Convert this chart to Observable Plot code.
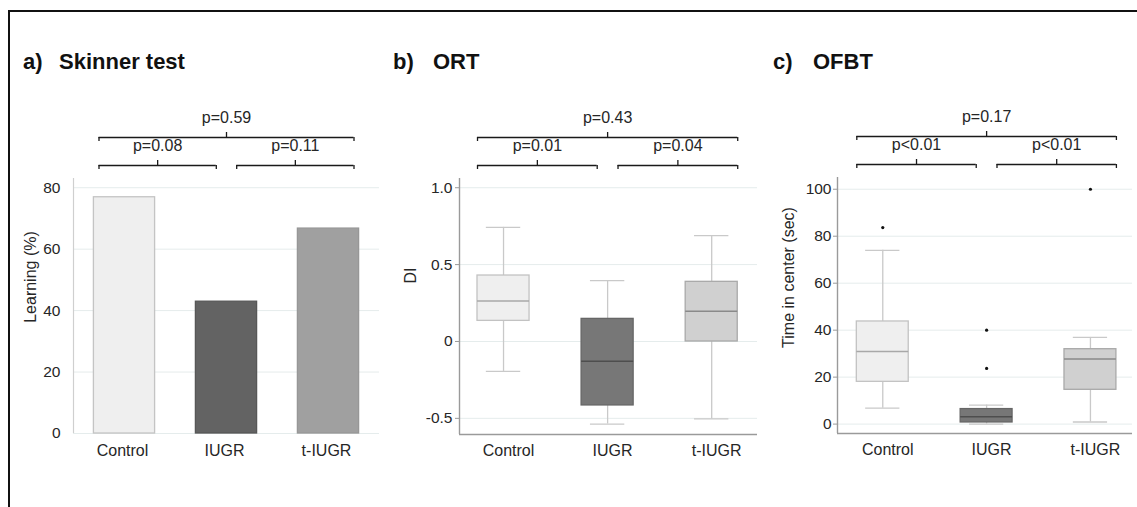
<!DOCTYPE html>
<html>
<head>
<meta charset="utf-8">
<script src="https://cdn.jsdelivr.net/npm/d3@7"></script>
<script src="https://cdn.jsdelivr.net/npm/@observablehq/plot@0.6"></script>
<style>
  html, body { margin: 0; padding: 0; background: #fff; }
  #fig { position: relative; width: 1137px; height: 507px; overflow: hidden; background: #fff;
         font-family: 'Liberation Sans', Arial, Helvetica, sans-serif; }
  #frameBorder { position: absolute; left: 8px; top: 10px; right: -4px; bottom: -4px;
                 border-top: 2px solid #111; border-left: 2px solid #111; }
  .t { position: absolute; top: 51px; font-size: 22px; line-height: 22px; font-weight: bold; color: #111; white-space: nowrap; }
  .p { position: absolute; top: 0; }
</style>
</head>
<body>
<div id="fig">
  <div id="frameBorder"></div>
  <div class="t" style="left:23px">a)</div><div class="t" style="left:59px">Skinner test</div>
  <div class="t" style="left:393px">b)</div><div class="t" style="left:433px">ORT</div>
  <div class="t" style="left:773px">c)</div><div class="t" style="left:813px">OFBT</div>
  <div class="p" id="pa" style="left:0px"></div>
  <div class="p" id="pb" style="left:380px"></div>
  <div class="p" id="pc" style="left:760px"></div>
</div>
<script>
// ---------------- data ----------------
const groups = ["Control", "IUGR", "t-IUGR"];

// a) Skinner test: learning (%)
const learningPct = [76.9, 42.9, 66.7];
const skinnerTicks = [0, 20, 40, 60, 80];
const skinnerP = ["p=0.08", "p=0.11", "p=0.59"];

// b) ORT: discrimination index (box statistics)
const ortMin    = [-0.195, -0.537, -0.504];
const ortQ1     = [ 0.134, -0.416,  0.000];
const ortMedian = [ 0.264, -0.128,  0.197];
const ortQ3     = [ 0.429,  0.147,  0.388];
const ortMax    = [ 0.742,  0.396,  0.688];
const ortTicks = [-0.5, 0, 0.5, 1.0];
const ortP = ["p=0.01", "p=0.04", "p=0.43"];

// c) OFBT: time in center (sec) (box statistics)
const ofbtMin    = [ 6.8, 0.0,  0.9];
const ofbtQ1     = [18.0, 0.7, 14.6];
const ofbtMedian = [30.9, 3.1, 27.7];
const ofbtQ3     = [43.7, 6.4, 31.9];
const ofbtMax    = [74.0, 8.1, 36.9];
const ofbtOutliers = [[83.7], [40.0, 23.7], [100.0]];
const ofbtTicks = [0, 20, 40, 60, 80, 100];
const ofbtP = ["p<0.01", "p<0.01", "p=0.17"];

// pairwise comparisons (group indices) and bracket level
const comparisons = [[0, 1], [1, 2], [0, 2]];
const levels = [0, 0, 1];

// ---------------- styles ----------------
const FONT = "'Liberation Sans', Arial, Helvetica, sans-serif";
const TEXT = "#262626";
const GRID = "#e5ecec";
const FS = 16, TICKFS = 15.5;
const barFill   = ["#efefef", "#636363", "#a0a0a0"];
const barStroke = ["#c4c4c4", "#575757", "#979797"];
const boxFill   = ["#efefef", "#777777", "#d0d0d0"];
const boxStroke = ["#c2c2c2", "#666666", "#a9a9a9"];
const medStroke = ["#a8a8a8", "#4e4e4e", "#8a8a8a"];
const whisk = "#c9c9c9";
const idx = groups.map((_, i) => i);

function brackets(yTop, labels) {
  const rows = comparisons.map(([a, b], k) => ({
    x1: a + (a > 0 ? 0.1 : -0.25),
    x2: b + (b < groups.length - 1 ? -0.1 : 0.25),
    level: levels[k],
    label: labels[k]
  }));
  return rows.flatMap(d => {
    const dy = -13 - 28 * d.level;
    const mid = (d.x1 + d.x2) / 2;
    const common = {stroke: "#1a1a1a", strokeWidth: 1.3, dy};
    return [
      Plot.ruleY([d], {y: () => yTop, x1: "x1", x2: "x2", ...common}),
      Plot.ruleX([d], {x: "x1", y1: () => yTop, y2: () => yTop, insetTop: 0, insetBottom: -4, ...common}),
      Plot.ruleX([d], {x: "x2", y1: () => yTop, y2: () => yTop, insetTop: 0, insetBottom: -4, ...common}),
      Plot.ruleX([d], {x: () => mid, y1: () => yTop, y2: () => yTop, insetTop: -5, insetBottom: 0, ...common}),
      Plot.text([d], {x: () => mid, y: () => yTop, text: "label", dy: dy - 15, lineAnchor: "bottom",
                      fontSize: FS, fill: TEXT})
    ];
  });
}

function boxMarks(mn, q1, med, q3, mx) {
  return [
    Plot.ruleX(idx, {x: i => i, y1: i => q3[i], y2: i => mx[i], stroke: whisk, strokeWidth: 1.3}),
    Plot.ruleX(idx, {x: i => i, y1: i => mn[i], y2: i => q1[i], stroke: whisk, strokeWidth: 1.3}),
    Plot.ruleY(idx, {y: i => mx[i], x1: i => i - 0.165, x2: i => i + 0.165, stroke: whisk, strokeWidth: 1.3}),
    Plot.ruleY(idx, {y: i => mn[i], x1: i => i - 0.165, x2: i => i + 0.165, stroke: whisk, strokeWidth: 1.3}),
    Plot.rect(idx, {x1: i => i - 0.25, x2: i => i + 0.25, y1: i => q1[i], y2: i => q3[i],
                    fill: i => boxFill[i], stroke: i => boxStroke[i], strokeWidth: 1.3}),
    Plot.ruleY(idx, {y: i => med[i], x1: i => i - 0.25, x2: i => i + 0.25, stroke: i => medStroke[i], strokeWidth: 1.5})
  ];
}

const baseStyle = {fontFamily: FONT, fontSize: FS + "px", color: TEXT, background: "transparent", overflow: "visible"};

function xAxis(dx, pad) {
  return Plot.axisX(idx, {tickFormat: i => groups[i], tickSize: 0, tickPadding: pad, fontSize: FS, label: null, fill: TEXT, dx});
}
function yTitle(text, dx, dy) {
  return Plot.text([text], {frameAnchor: "left", textAnchor: "middle", lineAnchor: "middle", rotate: -90,
                            dx, dy, text: d => d, fontSize: FS, fill: TEXT});
}

// ---------------- a) Skinner test ----------------
const xa = [-0.5, 2.5], ya = [0, 83];
const plotA = Plot.plot({
  width: 380, height: 507,
  marginLeft: 73, marginRight: 1, marginTop: 178, marginBottom: 74,
  x: {domain: xa}, y: {domain: ya},
  color: {type: "identity"},
  style: baseStyle,
  marks: [
    Plot.gridY(skinnerTicks, {stroke: GRID, strokeOpacity: 1}),
    Plot.ruleX([xa[0]], {stroke: "#cfcfcf", strokeWidth: 1.2}),
    Plot.rect(idx, {x1: i => i - 0.3, x2: i => i + 0.3, y1: () => 0, y2: i => learningPct[i],
                    fill: i => barFill[i], stroke: i => barStroke[i], strokeWidth: 1.3}),
    Plot.axisY(skinnerTicks, {tickSize: 0, tickPadding: 13, fontSize: TICKFS, label: null, fill: TEXT}),
    xAxis(-2, 11),
    yTitle("Learning (%)", -43, -29),
    ...brackets(ya[1], skinnerP)
  ]
});
document.getElementById("pa").appendChild(plotA);

// ---------------- b) ORT ----------------
const xb = [-0.423, 2.44], yb = [-0.605, 1.06];
const plotB = Plot.plot({
  width: 380, height: 507,
  marginLeft: 79, marginRight: 3, marginTop: 178, marginBottom: 73,
  x: {domain: xb}, y: {domain: yb},
  color: {type: "identity"},
  style: baseStyle,
  marks: [
    Plot.gridY(ortTicks, {stroke: GRID, strokeOpacity: 1}),
    ...boxMarks(ortMin, ortQ1, ortMedian, ortQ3, ortMax),
    Plot.ruleX([xb[0]], {stroke: "#9a9a9a", strokeWidth: 1.4}),
    Plot.ruleY([yb[0]], {stroke: "#9a9a9a", strokeWidth: 1.4}),
    Plot.axisY(ortTicks, {tickSize: 4, tickPadding: 3, stroke: "#9a9a9a", fontSize: TICKFS, label: null, fill: TEXT,
                          tickFormat: d => d === 0 ? "0" : d.toFixed(1)}),
    xAxis(5, 10),
    yTitle("DI", -49, -31),
    ...brackets(yb[1], ortP)
  ]
});
document.getElementById("pb").appendChild(plotB);

// ---------------- c) OFBT ----------------
const xc = [-0.436, 2.405], yc = [-4, 105];
const outRows = ofbtOutliers.flatMap((vals, i) => vals.map(v => ({g: i, v})));
const plotC = Plot.plot({
  width: 377, height: 507,
  marginLeft: 77, marginRight: 5, marginTop: 177, marginBottom: 74,
  x: {domain: xc}, y: {domain: yc},
  color: {type: "identity"},
  style: baseStyle,
  marks: [
    Plot.gridY(ofbtTicks, {stroke: GRID, strokeOpacity: 1}),
    ...boxMarks(ofbtMin, ofbtQ1, ofbtMedian, ofbtQ3, ofbtMax),
    Plot.dot(outRows, {x: "g", y: "v", r: 1.6, fill: "#111", stroke: null}),
    Plot.ruleX([xc[0]], {stroke: "#9a9a9a", strokeWidth: 1.4}),
    Plot.ruleY([yc[0]], {stroke: "#9a9a9a", strokeWidth: 1.4}),
    Plot.axisY(ofbtTicks, {tickSize: 4, tickPadding: 2, stroke: "#9a9a9a", fontSize: TICKFS, label: null, fill: TEXT}),
    xAxis(5, 10),
    yTitle("Time in center (sec)", -49, -28),
    ...brackets(yc[1], ofbtP)
  ]
});
document.getElementById("pc").appendChild(plotC);
</script>
</body>
</html>
